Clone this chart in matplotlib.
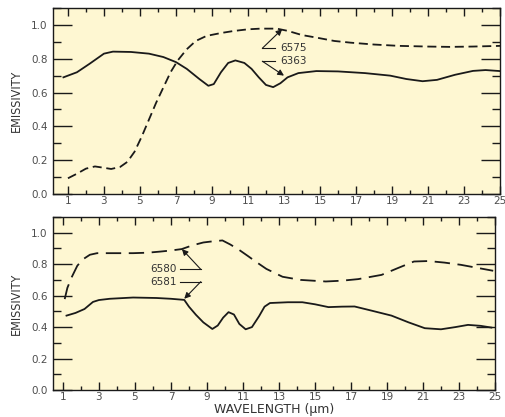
import matplotlib
matplotlib.use("Agg")
import matplotlib.pyplot as plt
from matplotlib.ticker import MultipleLocator

# Top panel: sample 6363 (solid) and 6575 (dashed)
top_solid_x = [0.75, 1.5, 2.2, 3.0, 3.5, 4.5, 5.5, 6.3, 7.0, 7.6, 8.3, 8.8, 9.1, 9.5, 9.9,
               10.3, 10.8, 11.2, 11.6, 12.0, 12.4, 12.8, 13.2, 13.8, 14.8, 16.0, 17.5, 18.9,
               19.8, 20.7, 21.5, 22.5, 23.5, 24.2, 25.0]
top_solid_y = [0.69, 0.72, 0.77, 0.83, 0.842, 0.84, 0.83, 0.81, 0.78, 0.74, 0.68, 0.64, 0.65,
               0.72, 0.775, 0.79, 0.775, 0.74, 0.69, 0.645, 0.632, 0.655, 0.69, 0.715, 0.727,
               0.725, 0.715, 0.70, 0.68, 0.667, 0.675, 0.705, 0.728, 0.733, 0.727]

top_dash_x = [1.0, 1.5, 2.0, 2.5, 3.0, 3.4, 3.9, 4.3, 4.7, 5.1, 5.5, 5.9, 6.3, 6.7, 7.1, 7.6,
              8.1, 8.7, 9.5, 10.2, 11.0, 11.7, 12.6, 13.2, 14.0, 14.8, 15.8, 16.7, 18.0, 19.4,
              21.0, 22.2, 23.5, 25.0]
top_dash_y = [0.093, 0.12, 0.15, 0.163, 0.155, 0.148, 0.16, 0.19, 0.25, 0.34, 0.44, 0.54, 0.63,
              0.72, 0.79, 0.856, 0.905, 0.935, 0.952, 0.964, 0.974, 0.978, 0.978, 0.965, 0.94,
              0.925, 0.905, 0.895, 0.884, 0.876, 0.872, 0.87, 0.872, 0.876]

# Bottom panel: sample 6581 (solid) and 6580 (dashed)
bot_solid_x = [1.2, 1.7, 2.2, 2.67, 3.0, 3.6, 4.9, 6.2, 7.0, 7.74, 8.0, 8.39, 8.8, 9.3, 9.6,
               9.9, 10.2, 10.5, 10.8, 11.15, 11.5, 11.9, 12.2, 12.5, 13.5, 14.3, 15.0, 15.75,
               16.5, 17.2, 18.2, 19.25, 20.2, 21.1, 22.0, 22.8, 23.5, 24.2, 24.8]
bot_solid_y = [0.473, 0.49, 0.515, 0.56, 0.572, 0.58, 0.588, 0.585, 0.58, 0.573, 0.53, 0.478,
               0.43, 0.388, 0.41, 0.46, 0.495, 0.48, 0.42, 0.386, 0.40, 0.47, 0.53, 0.553,
               0.558, 0.558, 0.545, 0.527, 0.53, 0.531, 0.503, 0.473, 0.43, 0.393, 0.386, 0.40,
               0.414, 0.408, 0.397]

bot_dash_x = [1.1, 1.25, 1.5, 1.8, 2.1, 2.5, 2.9, 4.0, 4.9, 5.7, 6.4, 7.0, 7.6, 8.2, 8.8, 9.3,
              9.86, 10.3, 10.8, 11.3, 11.7, 12.3, 13.2, 14.2, 15.6, 16.5, 17.4, 18.7, 19.6,
              20.5, 21.3, 22.2, 23.1, 24.0, 24.9]
bot_dash_y = [0.578, 0.65, 0.72, 0.79, 0.83, 0.86, 0.87, 0.87, 0.87, 0.873, 0.88, 0.887, 0.896,
              0.92, 0.938, 0.945, 0.951, 0.925, 0.89, 0.85, 0.817, 0.77, 0.72, 0.70, 0.69,
              0.695, 0.705, 0.732, 0.775, 0.817, 0.82, 0.81, 0.796, 0.777, 0.758]

bg = "#fef7d2"
ink = "#1a1a1a"
grey = "#4d4d4d"

fig = plt.figure(figsize=(5.06, 4.17), dpi=100)
ax1 = fig.add_axes([53 / 506, 1 - 194 / 417, 447 / 506, 186 / 417])
ax2 = fig.add_axes([53 / 506, 1 - 390 / 417, 442 / 506, 173 / 417])


def style_axes(ax, xlim):
    ax.set_facecolor(bg)
    ax.set_xlim(*xlim)
    ax.set_ylim(0, 1.1)
    ax.xaxis.set_minor_locator(MultipleLocator(1))
    ax.set_xticks(range(1, 26, 2))
    ax.yaxis.set_minor_locator(MultipleLocator(0.1))
    ax.set_yticks([0.0, 0.2, 0.4, 0.6, 0.8, 1.0])
    ax.set_yticklabels(["0.0", "0.2", "0.4", "0.6", "0.8", "1.0"])
    ax.tick_params(axis="x", which="major", direction="in", length=6, width=1,
                   top=True, labelsize=7.5, labelcolor=grey, color=ink, pad=1.5)
    ax.tick_params(axis="x", which="minor", direction="in", length=3, width=1,
                   top=True, color=ink)
    ax.tick_params(axis="y", which="major", direction="in", length=14, width=1,
                   right=True, labelsize=7.5, labelcolor=grey, color=ink, pad=4)
    ax.tick_params(axis="y", which="minor", direction="in", length=6, width=1,
                   right=True, color=ink)
    for s in ax.spines.values():
        s.set_color(ink)
        s.set_linewidth(1)
    ax.set_ylabel("EMISSIVITY", fontsize=9, color="#333333",
                  family="DejaVu Sans", stretch="condensed", labelpad=6)


def leader(ax, label, text_x, y, corner_x, target, ha):
    ax.text(text_x, y, label, fontsize=7.5, color="#333333", ha=ha, va="center")
    if ha == "left":
        ax.plot([corner_x, text_x - 0.3], [y, y], color=ink, lw=0.8)
    else:
        ax.plot([text_x + 0.2, corner_x], [y, y], color=ink, lw=0.8)
    ax.annotate("", xy=target, xytext=(corner_x, y),
                arrowprops=dict(arrowstyle="-|>", color=ink, lw=0.8,
                                mutation_scale=9, shrinkA=0, shrinkB=0))


style_axes(ax1, (0.17, 25.0))
ax1.plot(top_solid_x, top_solid_y, color=ink, lw=1.3)
ax1.plot(top_dash_x, top_dash_y, color=ink, lw=1.3, dashes=(5.0, 2.6))
leader(ax1, "6575", 12.8, 0.862, 11.8, (12.9, 0.975), "left")
leader(ax1, "6363", 12.8, 0.785, 11.8, (13.0, 0.70), "left")

style_axes(ax2, (0.45, 24.87))
ax2.plot(bot_solid_x, bot_solid_y, color=ink, lw=1.3)
ax2.plot(bot_dash_x, bot_dash_y, color=ink, lw=1.3, dashes=(8.5, 4.2))
leader(ax2, "6580", 7.3, 0.767, 8.66, (7.61, 0.896), "right")
leader(ax2, "6581", 7.3, 0.689, 8.66, (7.74, 0.58), "right")
ax2.set_xlabel("WAVELENGTH (\u00b5m)", fontsize=9, color="#333333", labelpad=0.5)

fig.savefig("out.png", dpi=100, facecolor="white")
plt.close(fig)
